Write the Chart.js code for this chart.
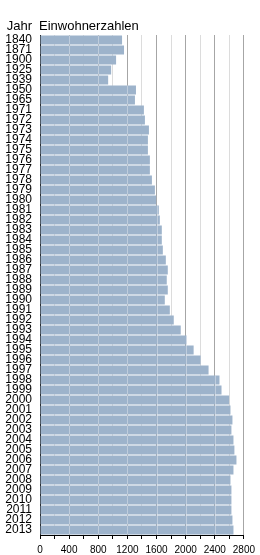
<!DOCTYPE html>
<html>
<head>
<meta charset="utf-8">
<script src="https://cdn.jsdelivr.net/npm/chart.js@4"></script>
<style>
    body { margin: 0; background: #fff; }
    #wrap { position: relative; width: 260px; height: 555px; }
    .head { position: absolute; top: 18px; font: 13px "Liberation Sans", Arial, sans-serif; color: #000; }
</style>
</head>
<body>
<div id="wrap">
    <span class="head" style="right: 228px;">Jahr</span>
    <span class="head" style="left: 39px;">Einwohnerzahlen</span>
    <canvas id="popChart" width="260" height="555"></canvas>
</div>
<script>
const years = ['1840', '1871', '1900', '1925', '1939', '1950', '1965', '1971', '1972', '1973',
    '1974', '1975', '1976', '1977', '1978', '1979', '1980', '1981', '1982', '1983',
    '1984', '1985', '1986', '1987', '1988', '1989', '1990', '1991', '1992', '1993',
    '1994', '1995', '1996', '1997', '1998', '1999', '2000', '2001', '2002', '2003',
    '2004', '2005', '2006', '2007', '2008', '2009', '2010', '2011', '2012', '2013'];

const population = [1127, 1154, 1045, 977, 936, 1318, 1304, 1427, 1441, 1496,
    1482, 1482, 1509, 1509, 1537, 1578, 1596, 1632, 1646, 1673,
    1673, 1687, 1728, 1755, 1741, 1755, 1714, 1783, 1837, 1933,
    2015, 2110, 2206, 2315, 2465, 2493, 2598, 2616, 2643, 2629,
    2657, 2670, 2698, 2657, 2616, 2629, 2629, 2629, 2643, 2657];

const axisMax = 2800;
const minorStep = 200;
const majorStep = 400;

// light lines across the bars at the major grid values
const barGridPlugin = {
    id: 'barGrid',
    afterDatasetsDraw(chart) {
        const ctx = chart.ctx;
        const xs = chart.scales.x;
        const meta = chart.getDatasetMeta(0);
        ctx.save();
        ctx.strokeStyle = 'rgba(255,255,255,0.35)';
        ctx.lineWidth = 1;
        meta.data.forEach(function(bar) {
            const p = bar.getProps(['x', 'y', 'base', 'height'], true);
            for (let v = majorStep; v <= axisMax; v += majorStep) {
                const px = Math.round(xs.getPixelForValue(v)) + 0.5;
                if (px < p.x) {
                    ctx.beginPath();
                    ctx.moveTo(px, p.y - p.height / 2);
                    ctx.lineTo(px, p.y + p.height / 2);
                    ctx.stroke();
                }
            }
        });
        ctx.restore();
    }
};

const ctx = document.getElementById('popChart').getContext('2d');
const popChart = new Chart(ctx, {
    type: 'bar',
    data: {
        labels: years,
        datasets: [{
            data: population,
            backgroundColor: '#9db3cb',
            borderWidth: 0,
            categoryPercentage: 1,
            barPercentage: 0.9
        }]
    },
    options: {
        indexAxis: 'y',
        responsive: false,
        animation: false,
        layout: { padding: { top: 35, right: 14, left: 0, bottom: 0 } },
        plugins: {
            legend: { display: false },
            tooltip: { enabled: false }
        },
        scales: {
            x: {
                min: 0,
                max: axisMax,
                afterFit(scale) { scale.height = 20; },
                border: { color: '#000', width: 1 },
                grid: {
                    color: function(c) {
                        return c.tick && c.tick.value % majorStep === 0 ? '#a6a6a6' : '#dcdcdc';
                    },
                    tickColor: '#000',
                    tickLength: 4
                },
                ticks: {
                    stepSize: minorStep,
                    autoSkip: false,
                    maxRotation: 0,
                    padding: 5,
                    color: '#000',
                    font: { family: "'Liberation Sans Narrow', 'Liberation Sans', Arial", size: 10 },
                    callback: function(v) { return v % majorStep === 0 ? v : ''; }
                }
            },
            y: {
                afterFit(scale) { scale.width = 40; },
                border: { color: '#000', width: 1 },
                grid: { display: false, drawTicks: false },
                ticks: {
                    padding: 8,
                    autoSkip: false,
                    color: '#000',
                    font: { family: "'Liberation Sans Narrow', 'Liberation Sans', Arial", size: 12, lineHeight: 1 }
                }
            }
        }
    },
    plugins: [barGridPlugin]
});
</script>
</body>
</html>
